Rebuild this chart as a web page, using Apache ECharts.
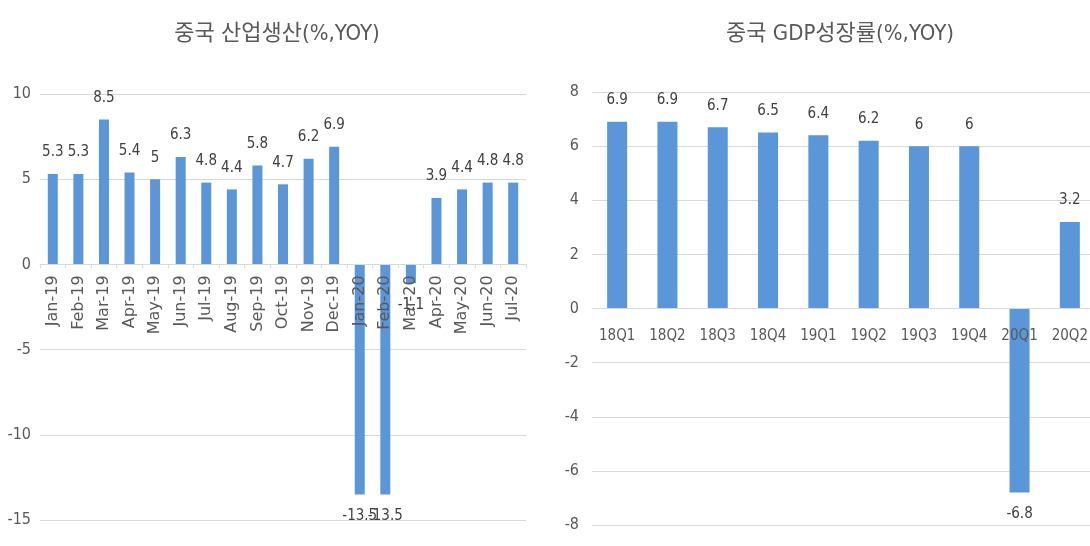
<!DOCTYPE html>
<html>
<head>
<meta charset="utf-8">
<script src="https://cdn.jsdelivr.net/npm/echarts@6/dist/echarts.min.js"></script>
<style>
  html, body { margin: 0; padding: 0; background: #ffffff; }
  #chart { width: 1090px; height: 546px; }
</style>
</head>
<body>
<div id="chart"></div>
<script>
// Industrial production (monthly, % YoY)
const ipMonths = ['Jan-19', 'Feb-19', 'Mar-19', 'Apr-19', 'May-19', 'Jun-19', 'Jul-19', 'Aug-19',
  'Sep-19', 'Oct-19', 'Nov-19', 'Dec-19', 'Jan-20', 'Feb-20', 'Mar-20', 'Apr-20', 'May-20',
  'Jun-20', 'Jul-20'];
const ipValues = [5.3, 5.3, 8.5, 5.4, 5, 6.3, 4.8, 4.4, 5.8, 4.7, 6.2, 6.9, -13.5, -13.5, -1.1,
  3.9, 4.4, 4.8, 4.8];

// GDP growth (quarterly, % YoY)
const gdpQuarters = ['18Q1', '18Q2', '18Q3', '18Q4', '19Q1', '19Q2', '19Q3', '19Q4', '20Q1', '20Q2'];
const gdpValues = [6.9, 6.9, 6.7, 6.5, 6.4, 6.2, 6, 6, -6.8, 3.2];

const ipTitle = '중국 산업생산(%,YOY)';
const gdpTitle = '중국 GDP성장률(%,YOY)';

const narrow = "'Liberation Sans Narrow', 'DejaVu Sans Condensed', 'Noto Sans CJK KR', sans-serif";
const plain = "'DejaVu Sans', 'Noto Sans', sans-serif";
const barColor = '#5A96D8';
const gridColor = '#d9d9d9';

// plot boxes (px) and value ranges of the two panels
const ipBox = { left: 40, width: 486, top: 94, bottom: 26, min: -15, max: 10 };
const gdpBox = { left: 592, width: 503, top: 92, bottom: 21, min: -8, max: 8 };
const H = 546;

// shift the category axis up from the plot bottom to the zero line
function zeroOffset(box) {
  const h = H - box.top - box.bottom;
  return -h * (0 - box.min) / (box.max - box.min);
}

// negative bars carry their value label underneath
function withLabels(values) {
  return values.map(v => ({
    value: v,
    label: { position: v < 0 ? 'bottom' : 'top' }
  }));
}

const chart = echarts.init(document.getElementById('chart'), null, { renderer: 'canvas' });

chart.setOption({
  backgroundColor: '#ffffff',
  animation: false,
  title: [
    {
      text: ipTitle, left: 272, top: 18, textAlign: 'center',
      textStyle: { fontFamily: narrow, fontSize: 22, fontWeight: 'normal', color: '#595959' }
    },
    {
      text: gdpTitle, left: 835, top: 18, textAlign: 'center',
      textStyle: { fontFamily: narrow, fontSize: 22, fontWeight: 'normal', color: '#595959' }
    }
  ],
  grid: [
    { left: ipBox.left, width: ipBox.width, top: ipBox.top, bottom: ipBox.bottom, containLabel: false, outerBoundsMode: 'none' },
    { left: gdpBox.left, width: gdpBox.width, top: gdpBox.top, bottom: gdpBox.bottom, containLabel: false, outerBoundsMode: 'none' }
  ],
  xAxis: [
    {
      type: 'category', gridIndex: 0, data: ipMonths, z: 5,
      position: 'bottom', offset: zeroOffset(ipBox),
      axisLine: { onZero: false, lineStyle: { color: gridColor } },
      axisTick: { show: true, length: 4, lineStyle: { color: gridColor } },
      axisLabel: { rotate: 90, margin: 11, fontFamily: plain, fontSize: 16, color: '#595959', interval: 0 },
      splitLine: { show: false }
    },
    {
      type: 'category', gridIndex: 1, data: gdpQuarters, z: 5,
      position: 'bottom', offset: zeroOffset(gdpBox),
      axisLine: { onZero: false, lineStyle: { color: gridColor } },
      axisTick: { show: false },
      axisLabel: { margin: 20, fontFamily: narrow, fontSize: 15, color: '#595959', interval: 0 },
      splitLine: { show: false }
    }
  ],
  yAxis: [
    {
      type: 'value', gridIndex: 0, min: ipBox.min, max: ipBox.max, interval: 5,
      axisLine: { show: false }, axisTick: { show: false },
      axisLabel: { margin: 9, fontFamily: narrow, fontSize: 16, color: '#595959' },
      splitLine: { lineStyle: { color: gridColor, width: 1 } }
    },
    {
      type: 'value', gridIndex: 1, min: gdpBox.min, max: gdpBox.max, interval: 2,
      axisLine: { show: false }, axisTick: { show: false },
      axisLabel: { margin: 13, fontFamily: narrow, fontSize: 16, color: '#595959' },
      splitLine: { lineStyle: { color: gridColor, width: 1 } }
    }
  ],
  series: [
    {
      type: 'bar', xAxisIndex: 0, yAxisIndex: 0, barWidth: 10,
      data: withLabels(ipValues),
      itemStyle: { color: barColor },
      label: { show: true, distance: 14, fontFamily: narrow, fontSize: 15, color: '#404040' }
    },
    {
      type: 'bar', xAxisIndex: 1, yAxisIndex: 1, barWidth: 20,
      data: withLabels(gdpValues),
      itemStyle: { color: barColor },
      label: { show: true, distance: 14, fontFamily: narrow, fontSize: 15, color: '#404040' }
    }
  ]
});
</script>
</body>
</html>
